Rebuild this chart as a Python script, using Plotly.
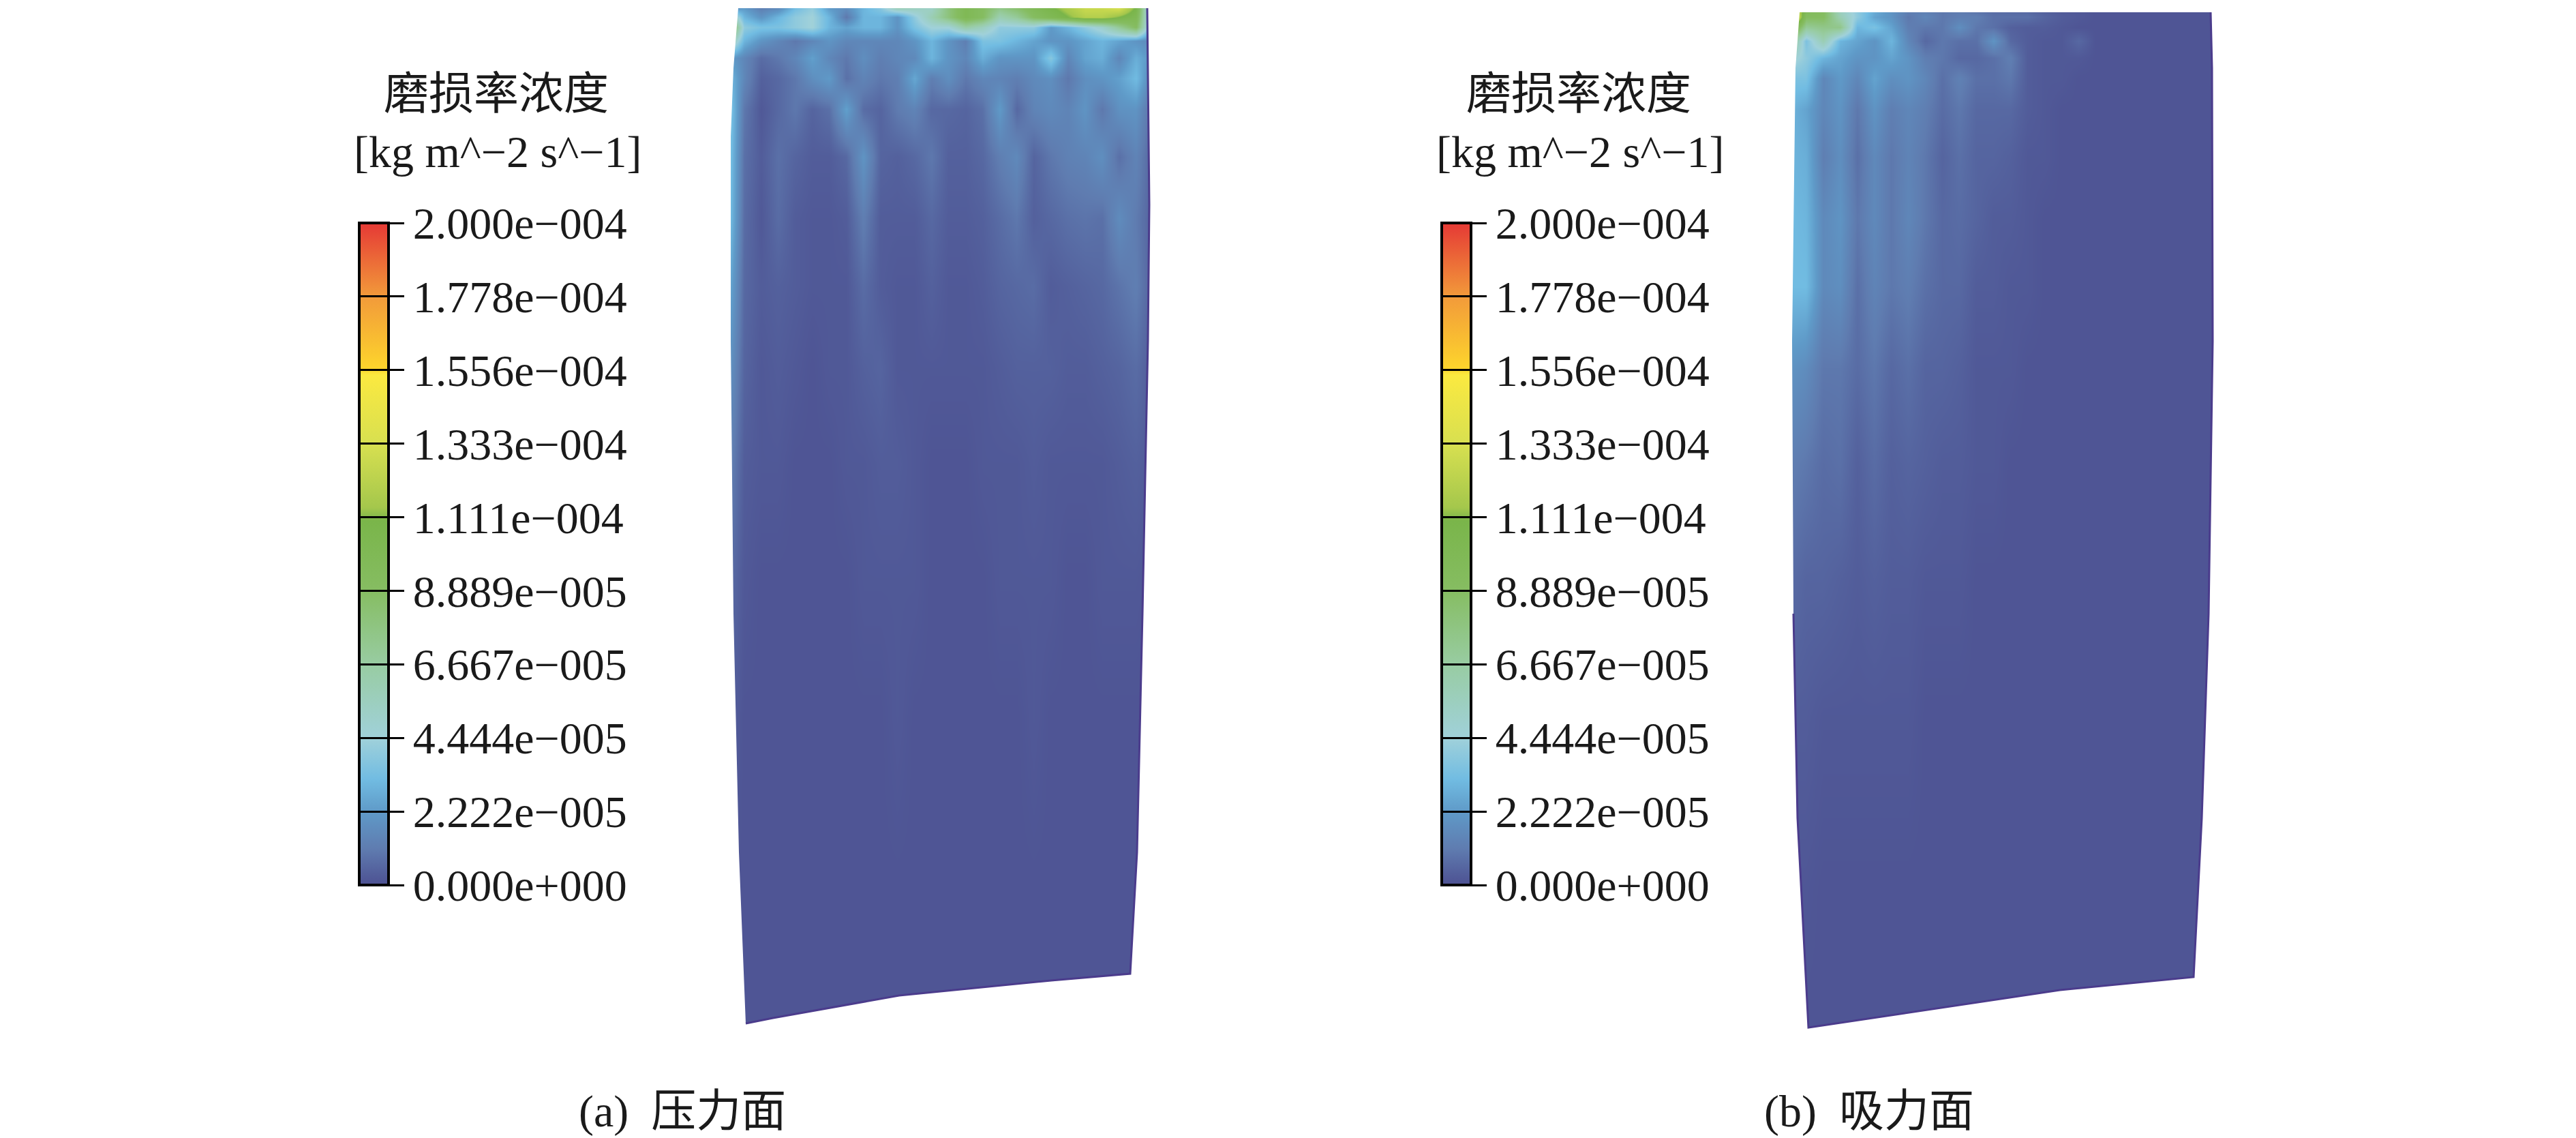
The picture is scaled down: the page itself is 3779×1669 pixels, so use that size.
import plotly.graph_objects as go

W, H = 3779, 1669
FONT = "Liberation Serif, 'Noto Sans CJK SC', serif"
INK = "#1a1a1a"

# colour bar (values in units of 1e-5 kg m^-2 s^-1)
tick_values = [0, 2.222, 4.444, 6.667, 8.889, 11.11, 13.33, 15.56, 17.78, 20.0]
tick_labels = ["0.000e+000", "2.222e\u2212005", "4.444e\u2212005", "6.667e\u2212005", "8.889e\u2212005",
               "1.111e\u2212004", "1.333e\u2212004", "1.556e\u2212004", "1.778e\u2212004", "2.000e\u2212004"]
scale_stops = [0, 1.1, 2.22, 3.2, 4.44, 6.67, 8.89, 11.0, 11.4, 13.33, 15.4, 15.6, 17.78, 20.0]
scale_colors = ["#4d5192", "#5f7cb0", "#5f9ac8", "#71bce2", "#a0d1da", "#98cca2", "#86bd62", "#7ab54a",
                "#a4c74c", "#d8e050", "#fbe940", "#fdd52c", "#f29a3a", "#e53935"]

# field sample positions, read in picture pixels
rows_y = [8, 25, 40, 60, 85, 115, 160, 230, 320, 420, 540, 680, 850, 1050, 1300, 1515]
cols_a = [1066, 1091, 1116, 1141, 1166, 1191, 1216, 1241, 1266, 1291, 1316, 1341, 1366,
          1391, 1416, 1441, 1466, 1491, 1516, 1541, 1566, 1591, 1616, 1641, 1666, 1694]
cols_b = [2624, 2649, 2674, 2699, 2724, 2749, 2774, 2799, 2824, 2849, 2874, 2899, 2924,
          2949, 2974, 2999, 3024, 3049, 3074, 3099, 3124, 3149, 3174, 3199, 3224, 3250]

wear_a = [
    [.3, 2, 1, 1.2, 3, 4, 2, 2, 3, 4, 7, 6, 5, 8, 10, 9, 8, 9, 10, 11, 12, 13, 13, 14, 11, .3],
    [7, 3, 2, 3, 4, 4.5, 3, 1, 3, 3, 2, 4, 6, 8, 10, 9, 6, 7, 9, 10, 11, 12, 12, 11, 10, 1],
    [11, 4, 3.5, 3.5, 4, 4.5, 3, 2.5, 3, 3, 2, 3.5, 4.5, 4.5, 6.5, 5.5, 4, 4, 4, 2.2, 3, 4, 5, 7, 9, 1],
    [7, 3, 2, 1.5, 1, 1.5, 2, 1.5, 1.5, 1.5, 1.5, 2, 3, 2, 1.2, 3.5, 3.5, 3, 2.5, 2, 2, 2.5, 3, 2.5, 2, 1.5],
    [2.5, 1.5, .7, 1, 1.5, 2.4, 1.5, 1, 1.8, 1.2, 1.5, 1.6, 3, 2, 1.5, 2.8, 2, 2, 2, 3.8, 1.5, 2.5, 2.8, 1.5, 2.8, 1.8],
    [3.5, 1.5, .4, .6, 1, 1.8, 2.2, .8, 1.4, 1, 1.2, 2.6, 1.2, 1.8, 1, 1.5, 1.4, 1.2, 1.6, 1.8, 1, 1.8, 2, 2.4, 3.2, 1],
    [4.2, 1, .2, .6, 1, .5, .8, 2.4, .7, .5, 1.1, 1.4, .6, .6, .5, .8, 2.2, .6, 1.4, 1.6, 1.4, 2, 1, 1.9, 2, .5],
    [4, .8, .3, .8, .5, .3, .3, .6, 2, .5, .4, .6, 1, .4, .4, .6, 1.2, 1.6, .5, 1, 1.3, 1.4, 1.8, .8, 1.4, .3],
    [3.8, .7, .2, .7, .3, .2, .2, .3, 1.2, .3, .3, .3, .6, .3, .3, .4, .7, 1, .4, .6, .8, .9, .8, 1.7, 1.1, .3],
    [3, .6, .3, .4, .3, .2, .2, .2, .7, .3, .2, .2, .4, .2, .2, .3, .5, .6, .7, .3, .4, .5, .6, .9, 1.2, .3],
    [2.2, .5, .2, .3, .2, .1, .2, .2, .4, .5, .2, .2, .2, .2, .2, .2, .3, .4, .4, .4, .3, .3, .4, .5, .7, .2],
    [1.5, .3, .2, .2, .1, .1, .1, .2, .2, .3, .3, .2, .1, .1, .1, .2, .2, .2, .3, .2, .2, .2, .2, .3, .4, .2],
    [.8, .2, .1, .1, .1, .1, .1, .1, .2, .2, .2, .2, .1, .1, .1, .1, .2, .2, .2, .2, .1, .1, .2, .2, .2, .1],
    [.4, .1, .1, .1, .1, .1, .1, .1, .1, .1, .2, .1, .1, .1, .1, .1, .1, .1, .2, .1, .1, .1, .1, .1, .1, .1],
    [.1, .1, .1, .1, .1, .1, .1, .1, .1, .1, .1, .1, .1, .1, .1, .1, .1, .1, .1, .1, .1, .1, .1, .1, .1, .1],
    [.1, .1, .1, .1, .1, .1, .1, .1, .1, .1, .1, .1, .1, .1, .1, .1, .1, .1, .1, .1, .1, .1, .1, .1, .1, .1],
]
wear_b = [
    [15, 10, 9, 5, 4, 3, 2, 1.5, 1, 1, 1, .6, .6, .5, .4, .3, .2, .2, .1, .1, .1, .1, .1, .1, .1, .1],
    [17, 9, 9, 6, 4, 2.5, 2, 1, 1.5, 1, 1.2, 1.2, .8, .8, .8, .5, .3, .2, .1, .1, .1, .1, .1, .1, .1, .1],
    [12, 7, 7.5, 7.5, 3, 3.5, 2.5, 1.2, 1, 1, 1.8, 1, .8, .4, .3, .3, .2, .1, .1, .1, .1, .1, .1, .1, .1, .1],
    [8, 3.5, 6, 3, 2.5, 2, 3, 1.5, .6, 1, .8, .8, 2, .6, .3, .2, .2, .6, .1, .1, .1, .1, .1, .1, .1, .1],
    [5, 4, 3, 2.5, 2, 2, 2.5, 2, 1.2, 1, .6, .6, .8, 1.2, .3, .2, .2, .2, .1, .1, .1, .1, .1, .1, .1, .1],
    [3.5, 3.5, 1.5, 2.2, 1.5, 2.5, 1.8, 2, 1.5, .8, 1.3, .8, .8, 1, .3, .2, .2, .1, .1, .1, .1, .1, .1, .1, .1, .1],
    [3, 2.5, 1.5, 2, 1, 2, 1.2, 1.5, 1.2, .7, 1, .6, .6, .6, .3, .2, .1, .1, .1, .1, .1, .1, .1, .1, .1, .1],
    [3, 2.8, 1.2, 1.8, .8, 1.6, 1, 1.4, 1, .5, .8, .5, .5, .4, .2, .2, .1, .1, .1, .1, .1, .1, .1, .1, .1, .1],
    [3.2, 3, 1.6, 2, 1, 1.6, 1, 1.5, 1, .6, .7, .5, .3, .3, .2, .1, .1, .1, .1, .1, .1, .1, .1, .1, .1, .1],
    [3.2, 3.2, 1.6, 1.8, .8, 1.4, 1, 1.2, .8, .6, .6, .3, .3, .2, .2, .1, .1, .1, .1, .1, .1, .1, .1, .1, .1, .1],
    [2, 1.7, 1, 1, .7, 1, .6, .8, .5, .5, .4, .2, .2, .2, .1, .1, .1, .1, .1, .1, .1, .1, .1, .1, .1, .1],
    [1.2, 1, .7, .8, .4, .7, .4, .5, .4, .3, .3, .2, .2, .1, .1, .1, .1, .1, .1, .1, .1, .1, .1, .1, .1, .1],
    [.7, .5, .5, .4, .3, .4, .3, .3, .2, .2, .2, .1, .1, .1, .1, .1, .1, .1, .1, .1, .1, .1, .1, .1, .1, .1],
    [.3, .3, .2, .2, .2, .2, .2, .2, .1, .1, .1, .1, .1, .1, .1, .1, .1, .1, .1, .1, .1, .1, .1, .1, .1, .1],
    [.15, .15, .1, .1, .1, .1, .1, .1, .1, .1, .1, .1, .1, .1, .1, .1, .1, .1, .1, .1, .1, .1, .1, .1, .1, .1],
    [.1, .1, .1, .1, .1, .1, .1, .1, .1, .1, .1, .1, .1, .1, .1, .1, .1, .1, .1, .1, .1, .1, .1, .1, .1, .1],
]

# blade outlines, clockwise from the top-left corner
blade_a_x = [1083, 1683, 1684, 1686, 1684, 1676, 1668, 1658, 1542, 1319, 1134, 1094, 1084, 1076, 1072, 1072, 1076]
blade_a_y = [12, 12, 100, 300, 500, 900, 1250, 1428, 1438, 1460, 1493, 1501, 1250, 900, 500, 200, 100]
blade_b_x = [2640, 3243, 3245, 3246, 3240, 3230, 3218, 3022, 2653, 2637, 2631, 2629, 2634]
blade_b_y = [18, 18, 100, 500, 900, 1200, 1433, 1452, 1507, 1200, 900, 500, 100]

BAR_TOP, BAR_BOTTOM = 327, 1298
panels = [
    dict(x=cols_a, z=wear_a, ox=blade_a_x, oy=blade_a_y, box=[1050, 1710], bar=527,
         edge_start=1, edge_end=12, caption="(a)\u00a0\u00a0\u538b\u529b\u9762", cap_x=1001),
    dict(x=cols_b, z=wear_b, ox=blade_b_x, oy=blade_b_y, box=[2610, 3270], bar=2115,
         edge_start=1, edge_end=11, caption="(b)\u00a0\u00a0\u5438\u529b\u9762", cap_x=2742),
]

cscale = [[s / 20.0, c] for s, c in zip(scale_stops, scale_colors)]
clear_scale = [[0, "rgba(0,0,0,0)"], [1, "rgba(0,0,0,0)"]]
fig = go.Figure()
notes = []
for i, p in enumerate(panels):
    xa, ya = ("x", "y") if i == 0 else ("x2", "y2")
    bar_pos = dict(x=p["bar"] / W, xanchor="left", xpad=0, y=1 - BAR_TOP / H, yanchor="top", ypad=0,
                   lenmode="pixels", len=BAR_BOTTOM - BAR_TOP, thicknessmode="pixels", thickness=43,
                   borderwidth=0, tickmode="array", tickvals=tick_values, tickcolor="#000", tickwidth=3)
    fig.add_trace(go.Heatmap(
        x=p["x"], y=rows_y, z=p["z"], xaxis=xa, yaxis=ya, zmin=0, zmax=20, zsmooth="best",
        colorscale=cscale, hoverinfo="skip",
        colorbar=dict(outlinewidth=4, outlinecolor="#000", ticktext=tick_labels, ticks="outside",
                      ticklen=21, tickfont=dict(family=FONT, size=66, color=INK), **bar_pos),
    ))
    # second, see-through colour bar whose only job is the tick lines crossing the bar
    fig.add_trace(go.Heatmap(
        x=[-20, -10], y=[-20, -10], z=[[0, 20], [0, 20]], xaxis=xa, yaxis=ya, zmin=0, zmax=20,
        colorscale=clear_scale, hoverinfo="skip",
        colorbar=dict(outlinewidth=0, ticks="inside", ticklen=43, showticklabels=False, **bar_pos),
    ))
    # white surround with a keyhole cut to the blade outline (blade walked the other way round)
    l, r = p["box"]
    rx, ry = p["ox"][::-1], p["oy"][::-1]
    mx = [l, r, r, l, l] + rx + rx[:1] + [l]
    my = [0, 0, 1560, 1560, 0] + ry + ry[:1] + [0]
    fig.add_trace(go.Scatter(x=mx, y=my, xaxis=xa, yaxis=ya, mode="none", fill="toself",
                             fillcolor="#ffffff", hoverinfo="skip", showlegend=False))
    s, e = p["edge_start"], p["edge_end"]
    fig.add_trace(go.Scatter(x=p["ox"][s:e], y=p["oy"][s:e], xaxis=xa, yaxis=ya, mode="lines",
                             line=dict(color="#4b3c8c", width=3), hoverinfo="skip", showlegend=False))
    off = 0 if i == 0 else 1588
    for text, cx, cy in [("\u78e8\u635f\u7387\u6d53\u5ea6", 728 + off, 137),
                         ("[kg m^\u22122 s^\u22121]", 730 + off, 222),
                         (p["caption"], p["cap_x"], 1630)]:
        notes.append(dict(text=text, xref="paper", yref="paper", x=cx / W, y=1 - cy / H, showarrow=False,
                          xanchor="center", yanchor="middle", font=dict(family=FONT, size=66, color=INK)))

def hidden(dom, rng):
    return dict(domain=dom, range=rng, visible=False, fixedrange=True)

la, ra = panels[0]["box"]
lb, rb = panels[1]["box"]
fig.update_layout(
    width=W, height=H, margin=dict(l=0, r=0, t=0, b=0, autoexpand=False),
    paper_bgcolor="#fff", plot_bgcolor="#fff", showlegend=False,
    xaxis=hidden([la / W, ra / W], [la, ra]),
    xaxis2=hidden([lb / W, rb / W], [lb, rb]),
    yaxis=hidden([1 - 1560 / H, 1], [1560, 0]),
    yaxis2=hidden([1 - 1560 / H, 1], [1560, 0]),
    annotations=notes,
)
fig.write_html("out.html", config={"displayModeBar": False},
               post_script="document.body.style.margin='0';")
